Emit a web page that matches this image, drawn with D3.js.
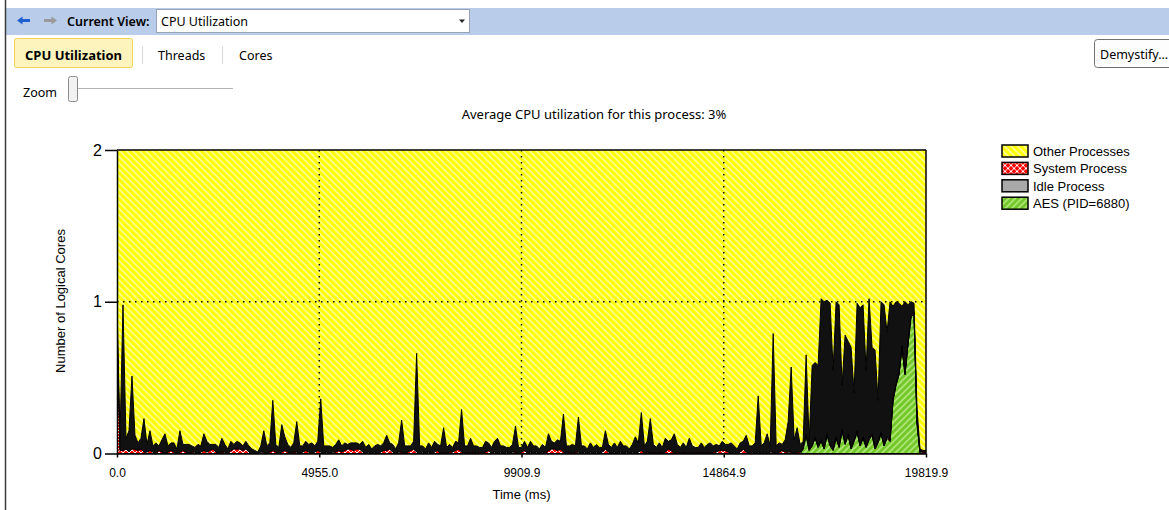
<!DOCTYPE html>
<html>
<head>
<meta charset="utf-8">
<script src="https://d3js.org/d3.v7.min.js"></script>
<style>
  body { margin: 0; background: #fff; }
</style>
</head>
<body>
<div id="chart"></div>
<script>

// samples of the profile, one every (19819.9 / 270) ms
var totalMs = 19819.9;
var totalCores = 2;

var idleValues = [
  0.15, 0.08, 0.96, 0.07, 0.14, 0.48, 0.09, 0.05, 0.07, 0.22,
  0.05, 0.13, 0.04, 0.07, 0.03, 0.08, 0.13, 0.04, 0.05, 0.06,
  0.03, 0.14, 0.04, 0.05, 0.06, 0.04, 0.03, 0.06, 0.04, 0.11,
  0.07, 0.04, 0.03, 0.05, 0.04, 0.09, 0.05, 0.03, 0.06, 0.03,
  0.05, 0.04, 0.03, 0.05, 0.04, 0.03, 0.02, 0.01, 0.04, 0.14,
  0.05, 0.06, 0.33, 0.05, 0.04, 0.18, 0.09, 0.05, 0.04, 0.06,
  0.20, 0.05, 0.04, 0.06, 0.05, 0.07, 0.04, 0.06, 0.35, 0.05,
  0.04, 0.05, 0.03, 0.05, 0.07, 0.04, 0.05, 0.03, 0.04, 0.05,
  0.04, 0.03, 0.07, 0.04, 0.05, 0.03, 0.04, 0.06, 0.04, 0.05,
  0.10, 0.04, 0.05, 0.03, 0.06, 0.21, 0.05, 0.04, 0.03, 0.05,
  0.65, 0.05, 0.04, 0.03, 0.06, 0.04, 0.07, 0.04, 0.05, 0.16,
  0.04, 0.05, 0.03, 0.06, 0.04, 0.28, 0.05, 0.04, 0.10, 0.04,
  0.05, 0.03, 0.04, 0.07, 0.05, 0.04, 0.07, 0.10, 0.04, 0.05,
  0.03, 0.04, 0.05, 0.17, 0.04, 0.03, 0.06, 0.04, 0.07, 0.05,
  0.04, 0.03, 0.05, 0.04, 0.11, 0.05, 0.04, 0.07, 0.05, 0.25,
  0.05, 0.04, 0.06, 0.04, 0.23, 0.05, 0.04, 0.03, 0.06, 0.04,
  0.05, 0.04, 0.03, 0.12, 0.05, 0.04, 0.06, 0.04, 0.07, 0.05,
  0.04, 0.03, 0.05, 0.11, 0.06, 0.25, 0.05, 0.07, 0.23, 0.05,
  0.04, 0.06, 0.04, 0.09, 0.05, 0.07, 0.13, 0.05, 0.04, 0.06,
  0.04, 0.09, 0.05, 0.03, 0.04, 0.06, 0.04, 0.05, 0.07, 0.04,
  0.05, 0.03, 0.06, 0.04, 0.05, 0.07, 0.04, 0.03, 0.06, 0.05,
  0.11, 0.05, 0.04, 0.07, 0.37, 0.05, 0.06, 0.13, 0.04, 0.78,
  0.05, 0.06, 0.04, 0.08, 0.20, 0.56, 0.09, 0.16, 0.05, 0.04,
  0.52, 0.05, 0.52, 0.49, 0.53, 0.93, 0.96, 0.88, 0.93, 0.52,
  0.89, 0.93, 0.29, 0.71, 0.61, 0.66, 0.31, 0.84, 0.90, 0.87,
  0.50, 0.92, 0.57, 0.64, 0.27, 0.86, 0.92, 0.69, 0.91, 0.61,
  0.54, 0.46, 0.26, 0.47, 0.25, 0.09, 0.06, 0.09, 0.02, 0.01,
  0.01
];

var systemValues = [
  0.85, 0.02, 0.02, 0.03, 0.01, 0.03, 0.03, 0.02, 0.03, 0.01,
  0.01, 0.02, 0.01, 0.00, 0.02, 0.01, 0.00, 0.01, 0.02, 0.01,
  0.00, 0.01, 0.02, 0.01, 0.00, 0.01, 0.01, 0.00, 0.01, 0.02,
  0.01, 0.02, 0.03, 0.01, 0.00, 0.01, 0.01, 0.00, 0.02, 0.03,
  0.03, 0.03, 0.02, 0.03, 0.01, 0.00, 0.00, 0.00, 0.01, 0.01,
  0.00, 0.01, 0.02, 0.01, 0.00, 0.01, 0.02, 0.01, 0.00, 0.01,
  0.01, 0.00, 0.01, 0.02, 0.01, 0.00, 0.01, 0.02, 0.01, 0.00,
  0.01, 0.00, 0.01, 0.01, 0.02, 0.01, 0.02, 0.03, 0.03, 0.02,
  0.03, 0.03, 0.01, 0.00, 0.01, 0.00, 0.01, 0.00, 0.01, 0.02,
  0.02, 0.03, 0.01, 0.00, 0.01, 0.01, 0.00, 0.01, 0.02, 0.03,
  0.01, 0.00, 0.01, 0.00, 0.01, 0.00, 0.01, 0.02, 0.00, 0.01,
  0.00, 0.01, 0.01, 0.02, 0.03, 0.01, 0.00, 0.01, 0.00, 0.01,
  0.00, 0.01, 0.00, 0.01, 0.02, 0.00, 0.01, 0.00, 0.01, 0.00,
  0.01, 0.00, 0.01, 0.01, 0.00, 0.01, 0.02, 0.00, 0.01, 0.00,
  0.01, 0.00, 0.01, 0.00, 0.02, 0.03, 0.03, 0.02, 0.03, 0.01,
  0.00, 0.01, 0.00, 0.01, 0.01, 0.00, 0.01, 0.00, 0.01, 0.00,
  0.01, 0.00, 0.01, 0.03, 0.01, 0.00, 0.01, 0.00, 0.01, 0.00,
  0.01, 0.00, 0.01, 0.00, 0.01, 0.02, 0.00, 0.01, 0.00, 0.01,
  0.00, 0.01, 0.00, 0.01, 0.03, 0.02, 0.00, 0.01, 0.00, 0.01,
  0.00, 0.01, 0.00, 0.01, 0.00, 0.01, 0.00, 0.01, 0.00, 0.01,
  0.01, 0.02, 0.02, 0.02, 0.01, 0.00, 0.01, 0.00, 0.01, 0.03,
  0.01, 0.00, 0.01, 0.00, 0.01, 0.00, 0.01, 0.00, 0.01, 0.01,
  0.00, 0.01, 0.02, 0.01, 0.01, 0.01, 0.00, 0.01, 0.01, 0.01,
  0.01, 0.01, 0.01, 0.01, 0.01, 0.01, 0.01, 0.01, 0.01, 0.01,
  0.01, 0.01, 0.01, 0.01, 0.01, 0.01, 0.01, 0.01, 0.01, 0.01,
  0.01, 0.01, 0.01, 0.01, 0.01, 0.01, 0.01, 0.01, 0.01, 0.01,
  0.01, 0.01, 0.01, 0.01, 0.01, 0.01, 0.01, 0.01, 0.01, 0.01,
  0.01
];

var aesValues = [
  0, 0, 0, 0, 0, 0, 0, 0, 0, 0,
  0, 0, 0, 0, 0, 0, 0, 0, 0, 0,
  0, 0, 0, 0, 0, 0, 0, 0, 0, 0,
  0, 0, 0, 0, 0, 0, 0, 0, 0, 0,
  0, 0, 0, 0, 0, 0, 0, 0, 0, 0,
  0, 0, 0, 0, 0, 0, 0, 0, 0, 0,
  0, 0, 0, 0, 0, 0, 0, 0, 0, 0,
  0, 0, 0, 0, 0, 0, 0, 0, 0, 0,
  0, 0, 0, 0, 0, 0, 0, 0, 0, 0,
  0, 0, 0, 0, 0, 0, 0, 0, 0, 0,
  0, 0, 0, 0, 0, 0, 0, 0, 0, 0,
  0, 0, 0, 0, 0, 0, 0, 0, 0, 0,
  0, 0, 0, 0, 0, 0, 0, 0, 0, 0,
  0, 0, 0, 0, 0, 0, 0, 0, 0, 0,
  0, 0, 0, 0, 0, 0, 0, 0, 0, 0,
  0, 0, 0, 0, 0, 0, 0, 0, 0, 0,
  0, 0, 0, 0, 0, 0, 0, 0, 0, 0,
  0, 0, 0, 0, 0, 0, 0, 0, 0, 0,
  0, 0, 0, 0, 0, 0, 0, 0, 0, 0,
  0, 0, 0, 0, 0, 0, 0, 0, 0, 0,
  0, 0, 0, 0, 0, 0, 0, 0, 0, 0,
  0, 0, 0, 0, 0, 0, 0, 0, 0, 0,
  0, 0, 0, 0, 0, 0, 0, 0, 0, 0.03,
  0.12, 0.02, 0.05, 0.10, 0.04, 0.08, 0.03, 0.12, 0.05, 0.02,
  0.10, 0.04, 0.15, 0.06, 0.12, 0.03, 0.08, 0.14, 0.05, 0.10,
  0.04, 0.09, 0.12, 0.03, 0.07, 0.13, 0.05, 0.10, 0.08, 0.35,
  0.45, 0.52, 0.70, 0.52, 0.72, 0.90, 0.92, 0.20, 0, 0,
  0
];

var xTicks = [0, 4955.0, 9909.9, 14864.9, 19819.9];
var yTicks = [0, 1, 2];
var legendNames = ["Other Processes", "System Process", "Idle Process", "AES (PID=6880)"];
var legendKeys = ["other", "system", "idle", "aes"];

var sampleMs = totalMs / (idleValues.length - 1);

var rows = idleValues.map(function (v, i) {
  return {
    t: i * sampleMs,
    aes: aesValues[i],
    system: systemValues[i],
    idle: v,
    other: totalCores - aesValues[i] - systemValues[i] - v
  };
});

var svg = d3
  .select("#chart")
  .append("svg")
  .attr("width", 1169)
  .attr("height", 510)
  .style("font-family", "'Noto Sans', sans-serif");

// ---------- patterns ----------
var defs = svg.append("defs");

var pY = defs.append("pattern")
  .attr("id", "hatchYellow")
  .attr("patternUnits", "userSpaceOnUse")
  .attr("width", 4.6).attr("height", 4.6)
  .attr("patternTransform", "rotate(-45)");
pY.append("rect").attr("width", 4.6).attr("height", 4.6).attr("fill", "#ffff00");
pY.append("line").attr("x1", 1).attr("x2", 1).attr("y1", 0).attr("y2", 4.6)
  .attr("stroke", "#ffffd2").attr("stroke-width", 1.2);

var pG = defs.append("pattern")
  .attr("id", "hatchGreen")
  .attr("patternUnits", "userSpaceOnUse")
  .attr("width", 4.6).attr("height", 4.6)
  .attr("patternTransform", "rotate(45)");
pG.append("rect").attr("width", 4.6).attr("height", 4.6).attr("fill", "#72c82a");
pG.append("line").attr("x1", 1).attr("x2", 1).attr("y1", 0).attr("y2", 4.6)
  .attr("stroke", "#c4f08e").attr("stroke-width", 1.3);

var pR = defs.append("pattern")
  .attr("id", "hatchRed")
  .attr("patternUnits", "userSpaceOnUse")
  .attr("width", 6).attr("height", 6);
pR.append("rect").attr("width", 6).attr("height", 6).attr("fill", "#ff0000");
pR.append("path").attr("d", "M0,0L6,6M6,0L0,6")
  .attr("stroke", "#ffffff").attr("stroke-width", 1);

defs.append("clipPath").attr("id", "plotClip")
  .append("rect").attr("x", 117).attr("y", 150).attr("width", 809).attr("height", 304);

// ---------- toolbar ----------
svg.append("rect").attr("x", 6).attr("y", 8).attr("width", 1163).attr("height", 27).attr("fill", "#b9cce9");
svg.append("line").attr("x1", 5.5).attr("x2", 5.5).attr("y1", 0).attr("y2", 510)
  .attr("stroke", "#3a3a3a").attr("stroke-width", 1.5);

svg.append("path").attr("d", "M17,20.5L22.5,16.5L22.5,19L30,19L30,22L22.5,22L22.5,24.5Z").attr("fill", "#1f5fd0");
svg.append("path").attr("d", "M57,20.5L51.5,16.5L51.5,19L44,19L44,22L51.5,22L51.5,24.5Z").attr("fill", "#9a9a9a");

svg.append("text").attr("x", 67).attr("y", 26).style("font-size", "12.5px").style("font-weight", 600)
  .text("Current View:");
svg.append("rect").attr("x", 156.5).attr("y", 9.5).attr("width", 313).attr("height", 23)
  .attr("fill", "#fff").attr("stroke", "#98a4b6");
svg.append("text").attr("x", 161).attr("y", 26).style("font-size", "12.5px").text("CPU Utilization");
svg.append("path").attr("d", "M459,19.5L465,19.5L462,23Z").attr("fill", "#222");

svg.append("rect").attr("x", 14.5).attr("y", 38.5).attr("width", 118).attr("height", 29).attr("rx", 2)
  .attr("fill", "#fdf3bd").attr("stroke", "#f1d35c");
svg.append("text").attr("x", 25).attr("y", 60).style("font-size", "13px").style("font-weight", 700)
  .text("CPU Utilization");
[142.5, 222.5].forEach(function (sx) {
  svg.append("line").attr("x1", sx).attr("x2", sx).attr("y1", 46).attr("y2", 64).attr("stroke", "#d9d9d9");
});
svg.append("text").attr("x", 158).attr("y", 60).style("font-size", "12.5px").text("Threads");
svg.append("text").attr("x", 239).attr("y", 60).style("font-size", "12.5px").text("Cores");

svg.append("rect").attr("x", 1094.5).attr("y", 39.5).attr("width", 90).attr("height", 28).attr("rx", 3)
  .attr("fill", "#fdfdfd").attr("stroke", "#707070");
svg.append("text").attr("x", 1100).attr("y", 59).style("font-size", "12.5px").text("Demystify...");

svg.append("text").attr("x", 23).attr("y", 97).style("font-size", "12.5px").text("Zoom");
svg.append("line").attr("x1", 77).attr("x2", 233).attr("y1", 88.5).attr("y2", 88.5).attr("stroke", "#b4b4b4");
svg.append("rect").attr("x", 68.5).attr("y", 76.5).attr("width", 9).attr("height", 25).attr("rx", 2)
  .attr("fill", "#f2f2f2").attr("stroke", "#8c8c8c");

svg.append("text").attr("x", 594).attr("y", 119).attr("text-anchor", "middle").style("font-size", "13px")
  .text("Average CPU utilization for this process: 3%");

// ---------- chart ----------
var x = d3.scaleLinear().domain([0, totalMs]).range([117, 926]);
var y = d3.scaleLinear().domain([0, totalCores]).range([453.5, 150]);

var stackedData = d3.stack().keys(["aes", "system", "idle", "other"])(rows);

var fills = { aes: "url(#hatchGreen)", system: "url(#hatchRed)", idle: "#111", other: "url(#hatchYellow)" };

var area = d3.area()
  .x(function (d) { return x(d.data.t); })
  .y0(function (d) { return y(d[0]); })
  .y1(function (d) { return y(d[1]); });

var plot = svg.append("g").attr("clip-path", "url(#plotClip)");

plot.append("path")
  .datum(stackedData[3])
  .attr("d", area)
  .attr("fill", fills.other);

// dotted grid
plot.selectAll(".vgrid")
  .data(xTicks.slice(1, 4))
  .join("line")
  .attr("x1", function (d) { return x(d); })
  .attr("x2", function (d) { return x(d); })
  .attr("y1", y(2)).attr("y2", y(0))
  .attr("stroke", "#000").attr("stroke-width", 1.4).attr("stroke-dasharray", "1.5,4.5");
plot.append("line")
  .attr("x1", x(0)).attr("x2", x(totalMs))
  .attr("y1", y(1)).attr("y2", y(1))
  .attr("stroke", "#000").attr("stroke-width", 1.4).attr("stroke-dasharray", "1.5,4.5");

plot.selectAll(".layer")
  .data(stackedData.slice(0, 3))
  .join("path")
  .attr("class", "layer")
  .attr("d", area)
  .attr("fill", function (d) { return fills[d.key]; })
  .attr("stroke", "#000")
  .attr("stroke-width", 1)
  .attr("stroke-linejoin", "round");

// axes
var xAxis = svg.append("g")
  .attr("transform", "translate(0," + y(0) + ")")
  .call(d3.axisBottom(x).tickValues(xTicks).tickFormat(d3.format(".1f")).tickSize(4).tickSizeOuter(0).tickPadding(11));
xAxis.selectAll("text").style("font-family", "'Liberation Sans', Arial, sans-serif").style("font-size", "12px").attr("fill", "#000");

var yAxis = svg.append("g")
  .attr("transform", "translate(" + x(0) + ",0)")
  .call(d3.axisLeft(y).tickValues(yTicks).tickFormat(d3.format("d")).tickSize(12).tickSizeOuter(0).tickPadding(3));
yAxis.selectAll("text").style("font-family", "'Liberation Sans', Arial, sans-serif").style("font-size", "16px").attr("fill", "#000");

svg.selectAll(".domain, .tick line").attr("stroke", "#000").attr("stroke-width", 1.5);

svg.append("line").attr("x1", x(0)).attr("x2", x(totalMs)).attr("y1", y(2)).attr("y2", y(2))
  .attr("stroke", "#000").attr("stroke-width", 1.5);
svg.append("line").attr("x1", x(totalMs)).attr("x2", x(totalMs)).attr("y1", y(2)).attr("y2", y(0))
  .attr("stroke", "#000").attr("stroke-width", 1.5);

svg.append("text")
  .attr("x", 521.5).attr("y", 499)
  .attr("text-anchor", "middle")
  .style("font-family", "'Liberation Sans', Arial, sans-serif").style("font-size", "13px")
  .text("Time (ms)");

svg.append("text")
  .attr("transform", "translate(65,301) rotate(-90)")
  .attr("text-anchor", "middle")
  .style("font-family", "'Liberation Sans', Arial, sans-serif").style("font-size", "13px")
  .text("Number of Logical Cores");

// legend
var legendFills = { other: "url(#hatchYellow)", system: "url(#hatchRed)", idle: "#a9a9a9", aes: "url(#hatchGreen)" };
var legend = svg.selectAll(".legendRow")
  .data(legendKeys)
  .join("g")
  .attr("class", "legendRow")
  .attr("transform", function (d, i) { return "translate(1002," + (145 + i * 17.4) + ")"; });
legend.append("rect")
  .attr("width", 26).attr("height", 12)
  .attr("fill", function (d) { return legendFills[d]; })
  .attr("stroke", "#000").attr("stroke-width", 1.5);
legend.append("text")
  .attr("x", 31).attr("y", 11)
  .style("font-family", "'Liberation Sans', Arial, sans-serif").style("font-size", "13px")
  .text(function (d, i) { return legendNames[i]; });

</script>
</body>
</html>
